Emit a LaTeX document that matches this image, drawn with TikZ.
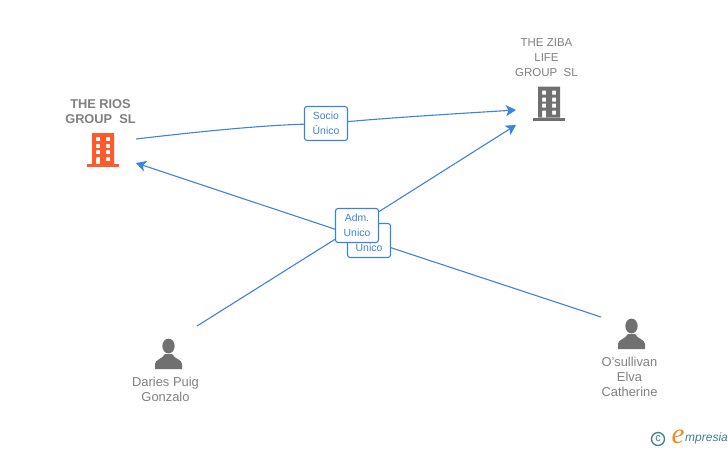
\documentclass[tikz,border=0pt]{standalone}
\usepackage{fontspec}
\setmainfont{Liberation Sans}
\newfontfamily\logoserif{Liberation Serif}
\usetikzlibrary{arrows.meta}
\definecolor{linkblue}{HTML}{3C83DE}
\definecolor{labelgray}{HTML}{808080}
\definecolor{icongray}{HTML}{707070}
\definecolor{iconred}{HTML}{FF5A2C}
\definecolor{logoteal}{HTML}{3F7F96}
\definecolor{logoorange}{HTML}{F28A1E}
\tikzset{
    company/.style={text=labelgray,align=center,font=\fontsize{11.5}{15}\selectfont},
    person/.style={text=labelgray,align=center,font=\fontsize{12.9}{15}\selectfont},
    rolebox/.style={draw=linkblue,fill=white,rounded corners=2.5,line width=1.1,minimum width=43,minimum height=34,
        inner sep=0,text=linkblue,align=center,font=\fontsize{10.4}{15}\selectfont},
    link/.style={draw=linkblue,line width=1.1},
    linkarrow/.style={link,-{Stealth[length=10,width=11,inset=2.5]}},
    buildingicon/.pic={
        \fill[even odd rule] (-11,0) rectangle (11,31)
            (-7,4) rectangle (-3,8) (3,4) rectangle (7,8)
            (-7,11) rectangle (-3,15) (3,11) rectangle (7,15)
            (-7,17) rectangle (-3,21) (3,17) rectangle (7,21)
            (-7,24) rectangle (-3,32) (3,24) rectangle (7,28);
        \fill (-16,31) rectangle (16,34);
    },
    personicon/.pic={
        \fill (0,-1) ellipse (6.2 and 7.4);
        \fill (-13.5,22) -- (-13.5,17) .. controls (-13.5,12.5) and (-6,12) .. (-3.5,7)
            -- (3.5,7) .. controls (6,12) and (13.5,12.5) .. (13.5,17) -- (13.5,22) -- cycle;
    }
}
\begin{document}
\begin{tikzpicture}[x=1pt,y=-1pt]
    \useasboundingbox (0,0) rectangle (728,450);

    % companies
    \node[company,font=\fontsize{12.8}{15}\selectfont\bfseries] (riosname) at (100.5,112) {THE RIOS\\GROUP\ \ SL};
    \node[company] (zibaname) at (546.5,58) {THE ZIBA\\LIFE\\GROUP\ \ SL};
    \pic[iconred] at (103,133) {buildingicon};
    \pic[icongray] at (549,86.5) {buildingicon};

    % people
    \pic[icongray] at (168.5,347) {personicon};
    \pic[icongray] at (631.5,327) {personicon};
    \node[person] (dariesname) at (165.5,389.5) {Daries Puig\\Gonzalo};
    \node[person] (elvaname) at (629.5,377) {O'sullivan\\Elva\\Catherine};

    % ends of the connectors
    \coordinate (riosout) at (136,139);
    \coordinate (riosin) at (136,163);
    \coordinate (zibatop) at (516,110);
    \coordinate (zibalow) at (516,125);
    \coordinate (dariesout) at (197,326);
    \coordinate (elvaout) at (601,317);

    \node[rolebox] (socio) at (326,123.5) {Socio\\Único};
    \draw[link] (riosout) .. controls (200,131.5) and (260,125.5) .. (socio);
    \draw[linkarrow] (socio) .. controls (400,117) and (460,113.5) .. (zibatop);

    \node[rolebox] (unicoback) at (369,240.5) {\phantom{Adm.}\\Unico};
    \draw[link] (elvaout) -- (unicoback);
    \draw[linkarrow] (unicoback) -- (riosin);

    \node[rolebox] (adm) at (357,225.5) {Adm.\\Unico};
    \draw[link] (dariesout) -- (adm);
    \draw[linkarrow] (adm) -- (zibalow);

    % logo
    \node[draw=logoteal,circle,line width=1.3,minimum size=13,inner sep=0,text=logoteal,font=\fontsize{11}{11}\selectfont] (logoc) at (658,439) {c};
    \node[text=logoorange,inner sep=0,font=\fontsize{29}{29}\selectfont\logoserif\itshape] (logoe) at (678,437) {e};
    \node[text=logoteal,inner sep=0,anchor=west,font=\fontsize{12}{13}\selectfont\itshape] (logotext) at (685,438.5) {mpresia};
\end{tikzpicture}
\end{document}
